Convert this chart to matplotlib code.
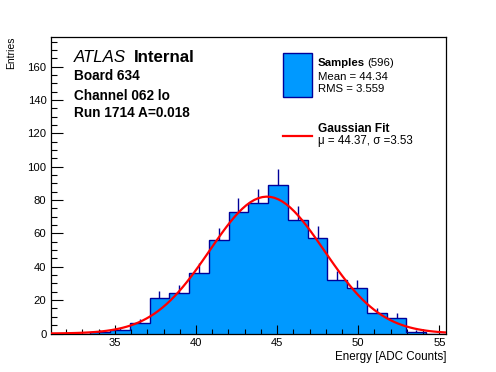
import numpy as np
import matplotlib
matplotlib.use('Agg')
import matplotlib.pyplot as plt
from matplotlib.ticker import MultipleLocator
from matplotlib.patches import Rectangle
from matplotlib.lines import Line2D

plt.rcParams['font.family'] = ['Liberation Sans', 'DejaVu Sans']

# ---- data ----
x_min, x_max = 31.04, 55.41
counts = [0, 0, 1, 2, 6, 21, 24, 36, 56, 73, 78, 89, 68, 57, 32, 27, 12, 9, 1, 0]
n_entries = 596
mean_val = 44.34
rms_val = 3.559
fit_mu = 44.37
fit_sigma = 3.53
info_lines = ["Board 634", "Channel 062 lo", "Run 1714 A=0.018"]
x_label = "Energy [ADC Counts]"
y_label = "Entries"

W, H = 496, 372
fig = plt.figure(figsize=(W / 100, H / 100), dpi=100)
fig.patch.set_facecolor('white')

L, R, T, B = 50.7, 446.0, 36.7, 333.5
ax = fig.add_axes([L / W, 1 - B / H, (R - L) / W, (B - T) / H])

edges = np.linspace(x_min, x_max, len(counts) + 1)
bw = edges[1] - edges[0]
centers = 0.5 * (edges[:-1] + edges[1:])
cnt = np.array(counts, dtype=float)

fill_c = '#0099ff'
edge_c = '#000099'
ax.stairs(cnt, edges, fill=True, color=fill_c, zorder=1)
ax.stairs(cnt, edges, color=edge_c, linewidth=1.0, zorder=2)
mask = cnt > 0
ax.vlines(centers[mask], cnt[mask], cnt[mask] + np.sqrt(cnt[mask]),
          color=edge_c, linewidth=1.0, zorder=2)

# Gaussian fit curve
amp = n_entries * bw / (fit_sigma * np.sqrt(2 * np.pi))
xf = np.linspace(x_min, x_max, 100)
yf = amp * np.exp(-0.5 * ((xf - fit_mu) / fit_sigma) ** 2)
ax.plot(xf, yf, color='#ff0000', linewidth=1.6, zorder=3)

ax.set_xlim(x_min, x_max)
ax.set_ylim(0, 178)

for s in ax.spines.values():
    s.set_linewidth(0.9)
    s.set_color('black')

ax.xaxis.set_major_locator(MultipleLocator(5))
ax.xaxis.set_minor_locator(MultipleLocator(1))
ax.yaxis.set_major_locator(MultipleLocator(20))
ax.yaxis.set_minor_locator(MultipleLocator(5))
ax.tick_params(axis='x', which='major', direction='in', length=6.5, width=0.8,
               labelsize=8.1, pad=3)
ax.tick_params(axis='x', which='minor', direction='in', length=3.3, width=0.8)
ax.tick_params(axis='y', which='major', direction='in', length=8.6, width=0.8,
               labelsize=8.1, pad=3)
ax.tick_params(axis='y', which='minor', direction='in', length=4.3, width=0.8)
ax.tick_params(top=False, right=False, which='both')

def fx(px):
    return px / W

def fy(py):
    return 1 - py / H

fig.text(fx(446.5), fy(360), x_label, ha='right', va='baseline', fontsize=8.4)
fig.text(fx(11), fy(36.5), y_label, ha='center', va='top', rotation=90, fontsize=7.5)

# ATLAS label
fig.text(fx(74), fy(62), "ATLAS", style='italic', fontsize=12.2, va='baseline', ha='left')
fig.text(fx(134), fy(62), "Internal", weight='bold', fontsize=12.2, va='baseline', ha='left')
for line, yb in zip(info_lines, [80, 99.5, 117]):
    fig.text(fx(74), fy(yb), line, weight='bold', fontsize=9.8, va='baseline', ha='left')

# Legend (manual, ROOT-like, no border)
fig.patches.append(Rectangle((fx(282.7), fy(96.7)), (311.7 - 282.7) / W, (96.7 - 53.3) / H,
                             transform=fig.transFigure, facecolor=fill_c,
                             edgecolor=edge_c, linewidth=1.0))
fig.lines.append(Line2D([fx(282.7), fx(311.7)], [fy(136), fy(136)],
                        transform=fig.transFigure, color='#ff0000', linewidth=1.6))
t1 = fig.text(fx(317.5), fy(66), "Samples", weight='bold', fontsize=8.2, va='baseline')
fig.canvas.draw()
bb = t1.get_window_extent()
fig.text(bb.x1 / W + 0.005, fy(66), f"({n_entries})", fontsize=8.2, va='baseline')
fig.text(fx(317.5), fy(80), f"Mean = {mean_val:.2f}", fontsize=8.2, va='baseline')
fig.text(fx(317.5), fy(91.5), f"RMS = {rms_val:.3f}", fontsize=8.2, va='baseline')
fig.text(fx(317.5), fy(132.5), "Gaussian Fit", weight='bold', fontsize=8.6, va='baseline')
fig.text(fx(317.5), fy(144), f"\u03bc = {fit_mu:.2f}, \u03c3 ={fit_sigma:.2f}", fontsize=8.3,
         va='baseline')

fig.savefig('out.png', dpi=100)
